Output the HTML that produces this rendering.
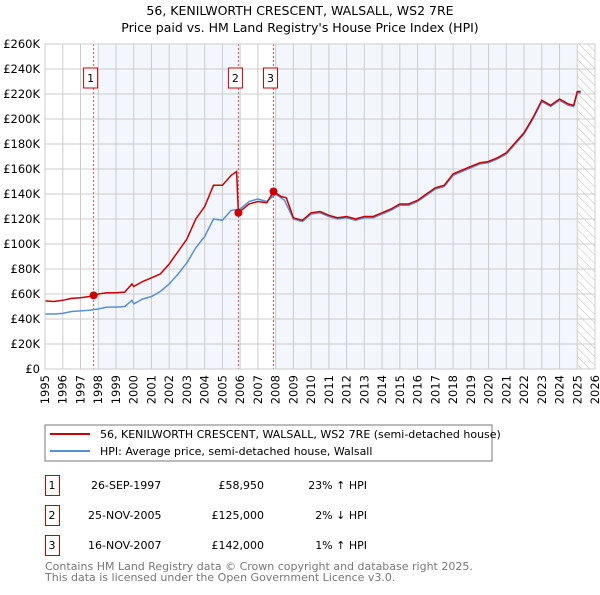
<!DOCTYPE html>
<html><head><meta charset="utf-8"><style>
body{margin:0;background:#fff;font-family:"Liberation Sans","DejaVu Sans",sans-serif}
svg text{font-family:"DejaVu Sans","Liberation Sans",sans-serif}
</style></head><body>
<svg id="c" width="600" height="590" xmlns="http://www.w3.org/2000/svg">
<defs><pattern id="hatch" width="6" height="6" patternUnits="userSpaceOnUse" patternTransform="rotate(-45)"><line x1="0" y1="0" x2="0" y2="6" stroke="#bbb" stroke-width="1"/></pattern></defs>
<text x="300" y="15" text-anchor="middle" font-size="12.5">56, KENILWORTH CRESCENT, WALSALL, WS2 7RE</text>
<text x="300" y="32" text-anchor="middle" font-size="12.5">Price paid vs. HM Land Registry's House Price Index (HPI)</text>
<g id="plot"></g>
<rect x="45" y="425" width="447" height="36" fill="#fff" stroke="#777"/>
<line x1="50" y1="434" x2="90" y2="434" stroke="#cc0000" stroke-width="2"/>
<text x="100" y="438" font-size="11">56, KENILWORTH CRESCENT, WALSALL, WS2 7RE (semi-detached house)</text>
<line x1="50" y1="451" x2="90" y2="451" stroke="#5b8fd4" stroke-width="2"/>
<text x="100" y="455" font-size="11">HPI: Average price, semi-detached house, Walsall</text>
<g font-size="11">
<rect x="45.5" y="475.5" width="14" height="20" fill="none" stroke="#cc0000"/><text x="52" y="489" text-anchor="middle">1</text>
<text x="91" y="489">26-SEP-1997</text><text x="264" y="489" text-anchor="end">£58,950</text><text x="367" y="489" text-anchor="end">23% ↑ HPI</text>
<rect x="45.5" y="505.5" width="14" height="20" fill="none" stroke="#cc0000"/><text x="52" y="519" text-anchor="middle">2</text>
<text x="88" y="519">25-NOV-2005</text><text x="264" y="519" text-anchor="end">£125,000</text><text x="367" y="519" text-anchor="end">2% ↓ HPI</text>
<rect x="45.5" y="535.5" width="14" height="20" fill="none" stroke="#cc0000"/><text x="52" y="549" text-anchor="middle">3</text>
<text x="88" y="549">16-NOV-2007</text><text x="264" y="549" text-anchor="end">£142,000</text><text x="367" y="549" text-anchor="end">1% ↑ HPI</text>
</g>
<text x="45" y="570" font-size="11" fill="#777">Contains HM Land Registry data © Crown copyright and database right 2025.</text>
<text x="45" y="581" font-size="11" fill="#777">This data is licensed under the Open Government Licence v3.0.</text>
</svg>
<script>
const hpiYears=[1995,1995.5,1996,1996.5,1997,1997.5,1998,1998.5,1999,1999.5,1999.9,2000,2000.5,2001,2001.5,2002,2002.5,2003,2003.5,2004,2004.5,2005,2005.5,2006,2006.5,2007,2007.5,2008,2008.5,2009,2009.5,2010,2010.5,2011,2011.5,2012,2012.5,2013,2013.5,2014,2014.5,2015,2015.5,2016,2016.5,2017,2017.5,2018,2018.5,2019,2019.5,2020,2020.5,2021,2021.5,2022,2022.5,2023,2023.5,2024,2024.5,2024.8,2025,2025.2];
const hpiValues=[44,44,44.5,46,46.5,47,48,49.5,49.5,50,55,52,56,58,62,68,76,85,97,106,120,119,127,128,134,136,134,140,135,120,118,124,125,122,120,121,119,121,121,124,127,131,131,134,139,144,146,155,158,161,164,165,168,172,180,188,200,214,210,215,211,210,221,221];
const priceYears=[1995,1995.5,1996,1996.5,1997,1997.5,1997.74,1998,1998.5,1999,1999.5,1999.9,2000,2000.5,2001,2001.5,2002,2002.5,2003,2003.5,2004,2004.5,2005,2005.5,2005.8,2005.9,2006.5,2007,2007.5,2007.88,2008.3,2008.6,2009,2009.5,2010,2010.5,2011,2011.5,2012,2012.5,2013,2013.5,2014,2014.5,2015,2015.5,2016,2016.5,2017,2017.5,2018,2018.5,2019,2019.5,2020,2020.5,2021,2021.5,2022,2022.5,2023,2023.5,2024,2024.5,2024.8,2025,2025.2];
const priceValues=[54.5,54,55,56.5,57,58,58.95,60,61,61,61.5,68,66,70,73,76,84,94,104,120,130,147,147,155,158,125,132,134,133,142,138,137,121,119,125,126,123,121,122,120,122,122,125,128,132,132,135,140,145,147,156,159,162,165,166,169,173,181,189,201,215,211,216,212,211,222,222];
const saleYears=[1997.74,2005.9,2007.88];
const saleValues=[58.95,125,142];
const saleLabels=["1","2","3"];
const yTicks=[0,20,40,60,80,100,120,140,160,180,200,220,240,260];
const xTicks=[1995,1996,1997,1998,1999,2000,2001,2002,2003,2004,2005,2006,2007,2008,2009,2010,2011,2012,2013,2014,2015,2016,2017,2018,2019,2020,2021,2022,2023,2024,2025,2026];
const X0=45,X1=595,Y0=369,Y1=44;
const sx=v=>X0+(v-1995)/(2026-1995)*(X1-X0);
const sy=v=>Y0-v/260*(Y0-Y1);
const NS="http://www.w3.org/2000/svg";
const g=document.getElementById('plot');
function mk(t,a){const e=document.createElementNS(NS,t);for(const k in a)e.setAttribute(k,a[k]);g.appendChild(e);return e;}
let r;
r=mk('rect',{x:sx(1998),y:Y1,width:sx(2006)-sx(1998),height:Y0-Y1,fill:'#f3f6fd'});


r=mk('rect',{x:sx(2008),y:Y1,width:sx(2025)-sx(2008),height:Y0-Y1,fill:'#f3f6fd'});


r=mk('rect',{x:sx(2025),y:Y1,width:sx(2026)-sx(2025),height:Y0-Y1,fill:'url(#hatch)'});


xTicks.forEach(t=>{
 const l=mk('line',{x1:sx(t),x2:sx(t),y1:Y1,y2:Y0,stroke:'#ccc','stroke-width':1});
 
 
 const tx=mk('text',{x:0,y:0,'font-size':11.5,'text-anchor':'end',transform:`translate(${sx(t)+4},${Y0+6}) rotate(-90)`});
 tx.textContent=t;
 
 
});
yTicks.forEach(t=>{
 const l=mk('line',{x1:X0,x2:X1,y1:sy(t),y2:sy(t),stroke:'#ccc','stroke-width':1});
 
 
 const tx=mk('text',{x:X0-5,y:sy(t)+4,'font-size':11.5,'text-anchor':'end'});
 tx.textContent=t===0?'£0':'£'+t+'K';
 
 
});
saleYears.forEach((s,i)=>{
 const l=mk('line',{x1:sx(s),x2:sx(s),y1:Y1,y2:Y0,stroke:'#e05050','stroke-width':1,'stroke-dasharray':'2,2'});
 
 
 const b=mk('rect',{x:sx(s)-10,y:68,width:14,height:20,fill:'#fff',stroke:'#cc0000'});
 
 
 const tx=mk('text',{x:sx(s)-3,y:82,'font-size':11,'text-anchor':'middle'});
 tx.textContent=saleLabels[i];
 
 
});
r=mk('path',{d:hpiYears.map((y,i)=>(i?'L':'M')+sx(y).toFixed(1)+','+sy(hpiValues[i]).toFixed(1)).join(''),fill:'none',stroke:'#5b8fd4','stroke-width':1.5});


r=mk('path',{d:priceYears.map((y,i)=>(i?'L':'M')+sx(y).toFixed(1)+','+sy(priceValues[i]).toFixed(1)).join(''),fill:'none',stroke:'#cc0000','stroke-width':1.5});


saleYears.forEach((s,i)=>{
 const c=mk('circle',{cx:sx(s),cy:sy(saleValues[i]),r:4,fill:'#cc0000'});
 
 
});
r=mk('rect',{x:X0,y:Y1,width:X1-X0,height:Y0-Y1,fill:'none',stroke:'#ccc'});


</script>
</body></html>
